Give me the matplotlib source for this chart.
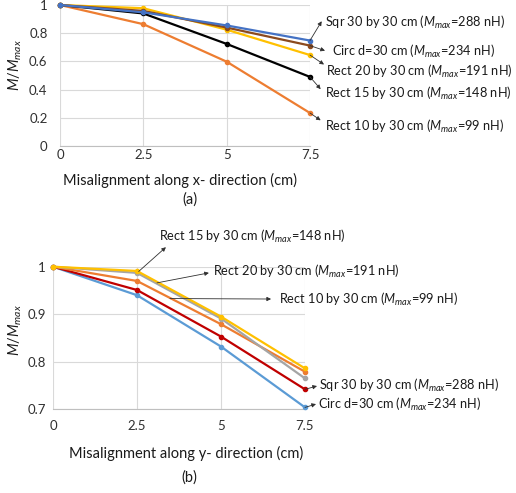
import matplotlib
matplotlib.use("Agg")
import matplotlib.pyplot as plt

plt.rcParams['font.family'] = ['Lato', 'DejaVu Sans']
plt.rcParams['mathtext.fontset'] = 'custom'
plt.rcParams['mathtext.it'] = 'Lato:italic'
plt.rcParams['mathtext.rm'] = 'Lato'

x_vals = [0, 2.5, 5, 7.5]
xticks = [0, 2.5, 5, 7.5]
xtick_labels = ['0', '2.5', '5', '7.5']

# (a) misalignment along x
a_names = ['Sqr 30 by 30 cm', 'Circ d=30 cm', 'Rect 20 by 30 cm', 'Rect 15 by 30 cm', 'Rect 10 by 30 cm']
a_mmax = ['288 nH', '234 nH', '191 nH', '148 nH', '99 nH']
a_sqr = [1.0, 0.948, 0.855, 0.748]
a_circ = [1.0, 0.958, 0.840, 0.712]
a_r20 = [1.0, 0.977, 0.825, 0.645]
a_r15 = [1.0, 0.940, 0.724, 0.490]
a_r10 = [1.0, 0.864, 0.598, 0.234]
a_yticks = [0, 0.2, 0.4, 0.6, 0.8, 1]
a_ytick_labels = ['0', '0.2', '0.4', '0.6', '0.8', '1']

# (b) misalignment along y
b_names = ['Rect 15 by 30 cm', 'Rect 20 by 30 cm', 'Rect 10 by 30 cm', 'Sqr 30 by 30 cm', 'Circ d=30 cm']
b_mmax = ['148 nH', '191 nH', '99 nH', '288 nH', '234 nH']
b_r15 = [1.0, 0.991, 0.895, 0.786]
b_r20 = [1.0, 0.987, 0.891, 0.765]
b_r10 = [1.0, 0.970, 0.879, 0.779]
b_sqr = [1.0, 0.951, 0.853, 0.742]
b_circ = [1.0, 0.940, 0.832, 0.704]
b_yticks = [0.7, 0.8, 0.9, 1]
b_ytick_labels = ['0.7', '0.8', '0.9', '1']

fig = plt.figure(figsize=(5.16, 4.93), dpi=100)
W, H = 516, 493

def axrect(l, r, t, b):
    return [l / W, 1 - b / H, (r - l) / W, (b - t) / H]

grid_c = '#D9D9D9'
lw = 1.6
ms = 3.0

def style(ax, ylim, yticks, ylabels, pad_x, pad_y):
    ax.set_xlim(0, 7.5)
    ax.set_ylim(*ylim)
    ax.set_xticks(xticks)
    ax.set_xticklabels(xtick_labels)
    ax.set_yticks(yticks)
    ax.set_yticklabels(ylabels)
    ax.grid(True, color=grid_c, linewidth=0.8)
    ax.set_axisbelow(True)
    for s in ['top', 'right', 'left']:
        ax.spines[s].set_visible(False)
    ax.spines['bottom'].set_color('#BFBFBF')
    ax.spines['bottom'].set_linewidth(0.8)
    ax.tick_params(length=0, labelsize=9.5, colors='#303030')
    ax.tick_params(axis='x', pad=pad_x)
    ax.tick_params(axis='y', pad=pad_y)

def label(txt, mm):
    return txt + ' ($M_{max}$=' + mm + ')'

# ---------- (a) ----------
ax1 = fig.add_axes(axrect(60, 310, 5, 146))
style(ax1, (0, 1), a_yticks, a_ytick_labels, 2, 9)
a_series = [a_sqr, a_circ, a_r20, a_r15, a_r10]
for yv, c in zip([a_r10, a_r15, a_r20, a_circ, a_sqr], ['#ED7D31', '#000000', '#FFC000', '#8B4A1E', '#4472C4']):
    ax1.plot(x_vals, yv, color=c, lw=lw, marker='o', ms=ms, clip_on=False, zorder=3)

a_heads = [(7.85, 0.885), (7.95, 0.676), (7.92, 0.578), (7.82, 0.403), (7.82, 0.182)]
a_text = [(7.95, 0.874), (8.15, 0.671), (7.98, 0.531), (7.95, 0.373), (7.95, 0.14)]
for i, yv in enumerate(a_series):
    ax1.annotate('', xy=a_heads[i], xytext=(7.5, yv[-1]),
                 arrowprops=dict(arrowstyle='-|>', color='#303030', lw=0.6,
                                 mutation_scale=6, shrinkA=0, shrinkB=0),
                 annotation_clip=False)
    ax1.text(a_text[i][0], a_text[i][1], label(a_names[i], a_mmax[i]),
             fontsize=9.2, va='center', ha='left', color='#1a1a1a', clip_on=False)

fig.text(15 / W, 1 - 65 / H, '$M/M_{max}$', rotation=90, ha='center', va='center',
         fontsize=10.5, color='#1a1a1a')
fig.text(180 / W, 1 - 180 / H, 'Misalignment along x- direction (cm)', ha='center',
         va='center', fontsize=10.5, color='#1a1a1a')
fig.text(190 / W, 1 - 200 / H, '(a)', ha='center', va='center', fontsize=10.5, color='#1a1a1a')

# ---------- (b) ----------
ax2 = fig.add_axes(axrect(53, 305, 266.7, 409.3))
style(ax2, (0.7, 1.0), b_yticks, b_ytick_labels, 8, 5)
for yv, c in zip([b_circ, b_sqr, b_r10, b_r20, b_r15], ['#5B9BD5', '#C00000', '#ED7D31', '#A5A5A5', '#FFC000']):
    ax2.plot(x_vals, yv, color=c, lw=lw, marker='o', ms=ms, clip_on=False, zorder=3)

b_tails = [(2.55, 0.990), (3.095, 0.966), (3.48, 0.933), (7.5, 0.742), (7.5, 0.704)]
b_heads = [(3.36, 1.041), (4.64, 0.987), (6.49, 0.932), (7.857, 0.749), (7.827, 0.711)]
b_text = [(3.155, 1.0646), (4.76, 0.991), (6.726, 0.932), (7.917, 0.751), (7.887, 0.711)]
for i in range(5):
    ax2.annotate('', xy=b_heads[i], xytext=b_tails[i],
                 arrowprops=dict(arrowstyle='-|>', color='#303030', lw=0.6,
                                 mutation_scale=6, shrinkA=0, shrinkB=0),
                 annotation_clip=False)
    ax2.text(b_text[i][0], b_text[i][1], label(b_names[i], b_mmax[i]),
             fontsize=9.2, va='center', ha='left', color='#1a1a1a', clip_on=False)

fig.text(15 / W, 1 - 330 / H, '$M/M_{max}$', rotation=90, ha='center', va='center',
         fontsize=10.5, color='#1a1a1a')
fig.text(186 / W, 1 - 453 / H, 'Misalignment along y- direction (cm)', ha='center',
         va='center', fontsize=10.5, color='#1a1a1a')
fig.text(189 / W, 1 - 478 / H, '(b)', ha='center', va='center', fontsize=10.5, color='#1a1a1a')

fig.savefig('out.png', dpi=100)
